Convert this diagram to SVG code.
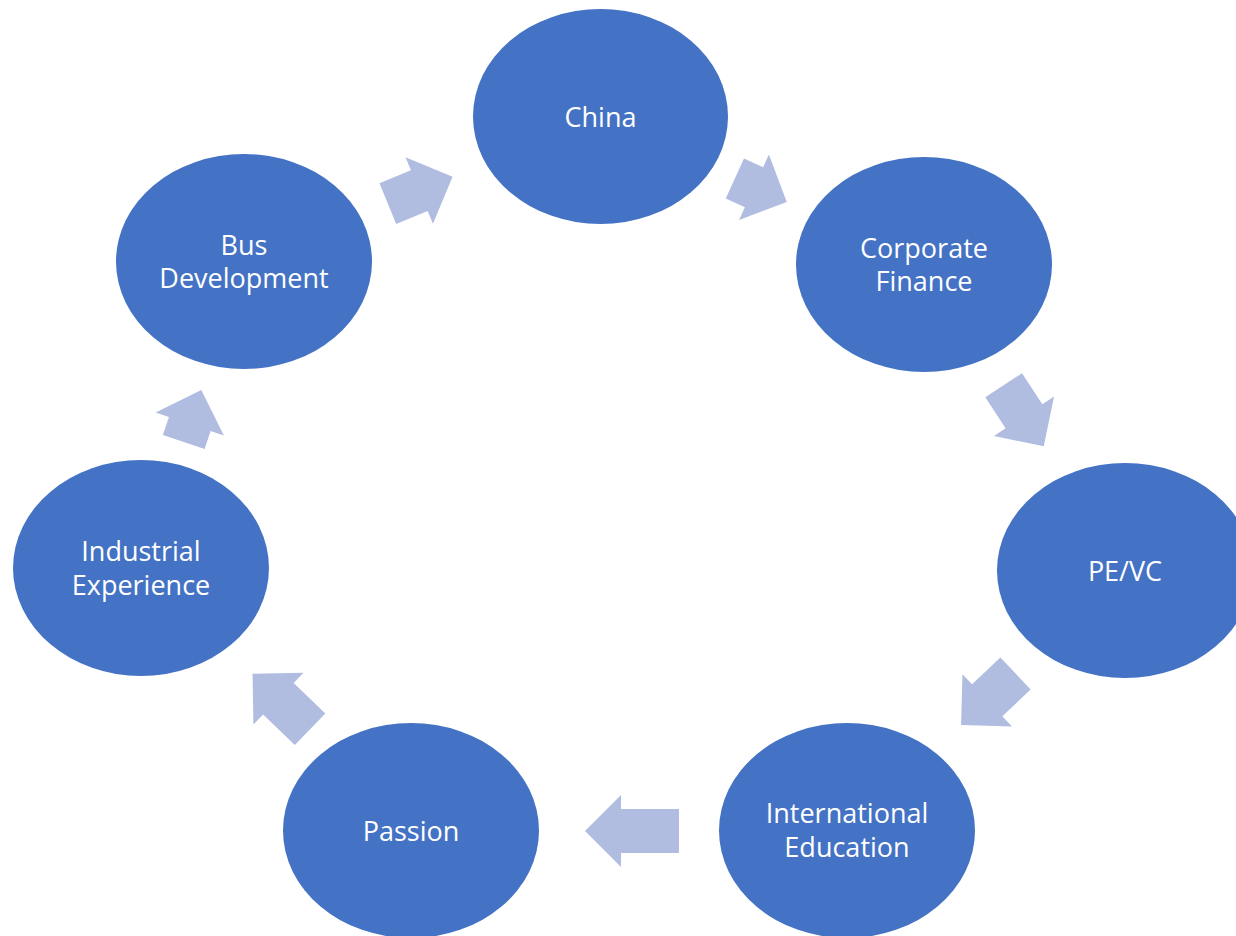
<svg xmlns="http://www.w3.org/2000/svg" width="1236" height="936" viewBox="0 0 1236 936">
<style>
.node{fill:#4472C4;}
.lbl{fill:#FFFFFF;font-family:"Open Sans","Liberation Sans",sans-serif;font-size:27px;text-anchor:middle;}
.arr{fill:#B0BDE0;}
</style>
<rect width="1236" height="936" fill="#FFFFFF"/>
<g id="connectors">
<path class="arr" transform="translate(420.2,190.2) rotate(-22.4)" d="M-35,-22 H-1 V-36 L35,0 L-1,36 V22 H-35 Z"/>
<path class="arr" transform="translate(760.8,190.3) rotate(24.5)" d="M-28.5,-22 H-7.5 V-36 L28.5,0 L-7.5,36 V22 H-28.5 Z"/>
<path class="arr" transform="translate(1023.7,415.8) rotate(56.7)" d="M-36.5,-22 H0.5 V-36 L36.5,0 L0.5,36 V22 H-36.5 Z"/>
<path class="arr" transform="translate(988.3,699.3) rotate(136.5)" d="M-37.5,-22 H1.5 V-36 L37.5,0 L1.5,36 V22 H-37.5 Z"/>
<path class="arr" transform="translate(632,831) rotate(180)" d="M-47,-22 H11 V-36 L47,0 L11,36 V22 H-47 Z"/>
<path class="arr" transform="translate(281.3,701.5) rotate(-136)" d="M-40,-22 H4 V-36 L40,0 L4,36 V22 H-40 Z"/>
<path class="arr" transform="translate(192.5,416) rotate(-71.4)" d="M-27.5,-22 H-8.5 V-36 L27.5,0 L-8.5,36 V22 H-27.5 Z"/>
</g>
<g id="china"><ellipse class="node" cx="600.5" cy="116.5" rx="127.5" ry="107.5"/><text class="lbl" x="600.5" y="126.5">China</text></g>
<g id="corporate-finance"><ellipse class="node" cx="924" cy="264.5" rx="128" ry="107.5"/><text class="lbl" x="924" y="257.5">Corporate</text><text class="lbl" x="924" y="290.5">Finance</text></g>
<g id="pe-vc"><ellipse class="node" cx="1125" cy="570.5" rx="128" ry="107.5"/><text class="lbl" x="1125" y="580.5">PE/VC</text></g>
<g id="international-education"><ellipse class="node" cx="847" cy="830.5" rx="128" ry="107.5"/><text class="lbl" x="847" y="822.5">International</text><text class="lbl" x="847" y="856.5">Education</text></g>
<g id="passion"><ellipse class="node" cx="411" cy="830.5" rx="128" ry="107.5"/><text class="lbl" x="411" y="840.5">Passion</text></g>
<g id="industrial-experience"><ellipse class="node" cx="141" cy="568" rx="128" ry="108"/><text class="lbl" x="141" y="560.5">Industrial</text><text class="lbl" x="141" y="594.5">Experience</text></g>
<g id="bus-development"><ellipse class="node" cx="244" cy="261.5" rx="128" ry="107.5"/><text class="lbl" x="244" y="254.5">Bus</text><text class="lbl" x="244" y="287.5">Development</text></g>
</svg>
